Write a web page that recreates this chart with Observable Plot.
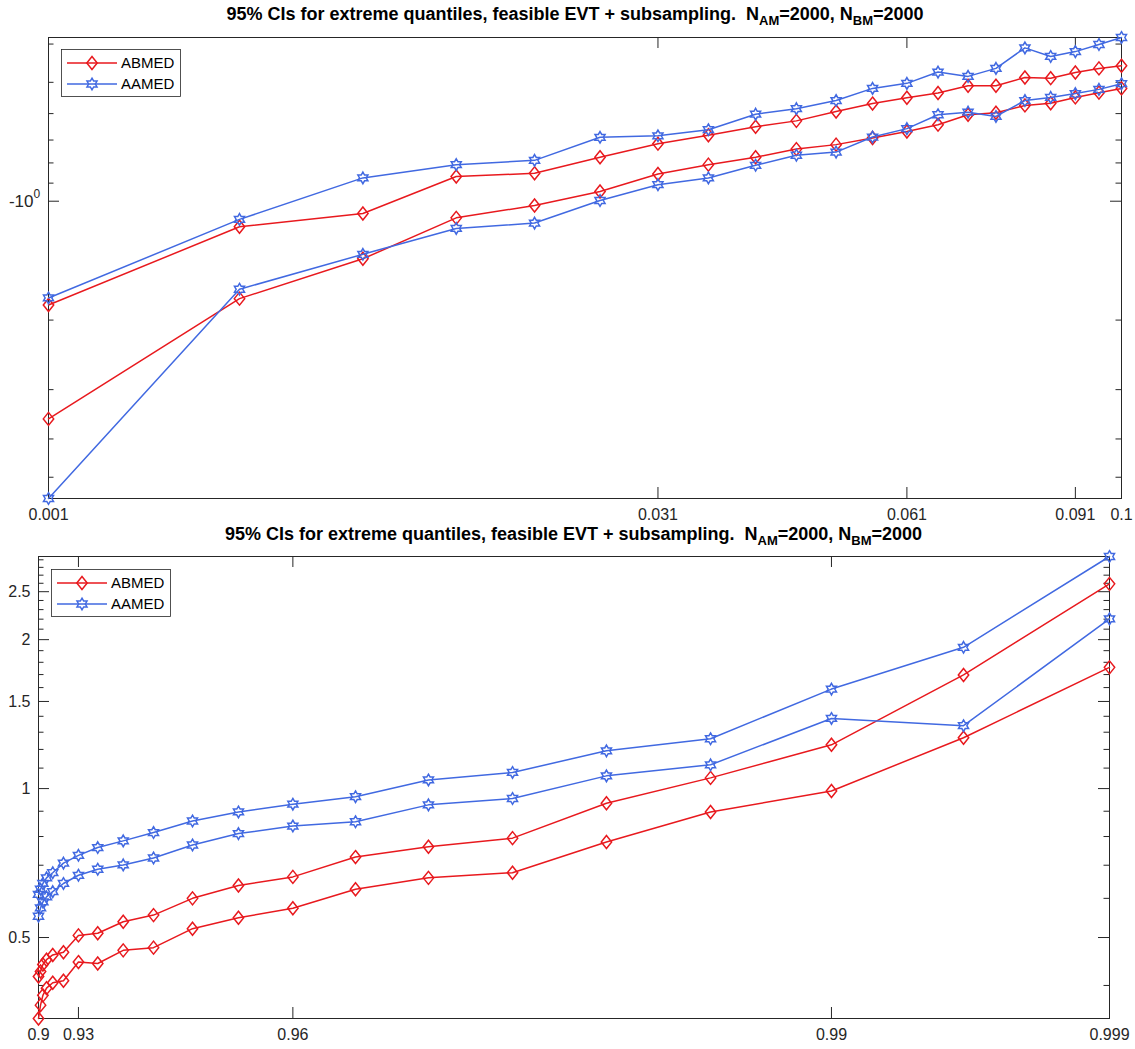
<!DOCTYPE html>
<html><head><meta charset="utf-8">
<script src="https://cdn.jsdelivr.net/npm/d3@7"></script>
<script src="https://cdn.jsdelivr.net/npm/@observablehq/plot@0.6"></script>
<style>
body{margin:0;background:#fff;}
#wrap{position:relative;width:1135px;height:1049px;overflow:hidden;font-family:"Liberation Sans",Arial,Helvetica,sans-serif;}
.panel{position:absolute;left:0;}
.title{position:absolute;font-weight:bold;font-size:18px;line-height:20px;color:#000;white-space:nowrap;transform:translateX(-50%);}
.title .sb{font-size:13px;position:relative;top:5px;}
.legend{position:absolute;}
</style></head><body><div id="wrap"></div>
<script>
// ---------- data: upper panel (lower-tail quantiles) ----------
const topP = [0.001,0.006,0.011,0.016,0.021,0.026,0.031,0.036,0.041,0.046,0.051,0.056,0.061,0.066,0.071,0.076,0.081,0.086,0.091,0.096,0.1];
// position of each probability on the (non-linear) quantile axis (0 = 0.001, 1 = 0.1)
const topXq = [0,0.178,0.293,0.380,0.453,0.514,0.568,0.615,0.659,0.697,0.734,0.768,0.800,0.829,0.857,0.883,0.910,0.934,0.957,0.979,1.0];
const topABMEDUpper = [-1.831,-1.161,-1.074,-0.866,-0.850,-0.774,-0.715,-0.681,-0.648,-0.626,-0.593,-0.566,-0.547,-0.532,-0.510,-0.510,-0.486,-0.488,-0.472,-0.461,-0.454];
const topABMEDLower = [-3.558,-1.765,-1.399,-1.102,-1.025,-0.945,-0.853,-0.808,-0.774,-0.738,-0.719,-0.692,-0.666,-0.640,-0.604,-0.597,-0.572,-0.565,-0.546,-0.531,-0.518];
const topAAMEDUpper = [-1.758,-1.112,-0.873,-0.808,-0.788,-0.689,-0.683,-0.659,-0.602,-0.583,-0.556,-0.518,-0.503,-0.471,-0.483,-0.461,-0.409,-0.430,-0.418,-0.401,-0.385];
const topAAMEDLower = [-5.66,-1.671,-1.363,-1.172,-1.136,-0.996,-0.908,-0.873,-0.811,-0.765,-0.751,-0.688,-0.655,-0.604,-0.595,-0.610,-0.556,-0.546,-0.534,-0.521,-0.504];
const topXTickP = [0.001,0.031,0.061,0.091,0.1];
const topXTickLabels = ["0.001","0.031","0.061","0.091","0.1"];
const topYMajor = [-1];
const topYMinor = [-5,-4,-3,-2,-0.9,-0.8,-0.7,-0.6,-0.5,-0.4];

// ---------- data: lower panel (upper-tail quantiles) ----------
const botP = [0.9,0.905,0.91,0.915,0.92,0.925,0.93,0.935,0.94,0.945,0.95,0.955,0.96,0.965,0.97,0.975,0.98,0.985,0.99,0.995,0.999];
const botXq = [0,0.0019,0.0041,0.0075,0.0133,0.0233,0.0373,0.0553,0.0791,0.1074,0.1438,0.1867,0.2375,0.2960,0.3641,0.4426,0.5303,0.6275,0.7404,0.8637,1.0];
const botABMEDUpper = [0.417,0.427,0.441,0.451,0.461,0.467,0.505,0.510,0.538,0.555,0.600,0.637,0.663,0.727,0.763,0.794,0.934,1.051,1.226,1.697,2.593];
const botABMEDLower = [0.343,0.365,0.382,0.395,0.405,0.409,0.446,0.443,0.471,0.477,0.521,0.548,0.573,0.626,0.660,0.676,0.780,0.897,0.989,1.267,1.758];
const botAAMEDUpper = [0.611,0.626,0.643,0.660,0.676,0.707,0.733,0.760,0.784,0.815,0.860,0.897,0.930,0.963,1.041,1.078,1.192,1.261,1.589,1.930,2.945];
const botAAMEDLower = [0.552,0.574,0.590,0.604,0.619,0.643,0.668,0.687,0.701,0.724,0.769,0.811,0.840,0.857,0.927,0.955,1.061,1.117,1.386,1.340,2.203];
const botXTickP = [0.9,0.93,0.96,0.99,0.999];
const botXTickLabels = ["0.9","0.93","0.96","0.99","0.999"];
const botYMajor = [0.5,1,1.5,2,2.5];
const botYMinor = [0.4,0.6,0.7,0.8,0.9,1.1,1.2,1.3,1.4,1.6,1.7,1.8,1.9,2.1,2.2,2.3,2.4,2.6,2.7,2.8,2.9];

const seriesNames = ["ABMED","AAMED"];
const titleHTML = '95% CIs for extreme quantiles, feasible EVT + subsampling.&nbsp; N<span class="sb">AM</span>=2000, N<span class="sb">BM</span>=2000';

// ---------- styling ----------
const AX = "#262626";
const RED = "#e8191e", BLUE = "#4169e1";
const FONT = '"Liberation Sans", Arial, Helvetica, sans-serif';
const TICKFONT = 16;
const diamond = {draw(ctx, size) {const r = Math.sqrt(size / Math.PI), w = r * 0.8;
  ctx.moveTo(0, -r); ctx.lineTo(w, 0); ctx.lineTo(0, r); ctx.lineTo(-w, 0); ctx.closePath();}};
const hexagram = {draw(ctx, size) {const R = Math.sqrt(size / Math.PI), ri = R / Math.sqrt(3);
  for (let k = 0; k < 12; ++k) {const a = -Math.PI / 2 + k * Math.PI / 6, rr = k % 2 ? ri : R;
    const x = rr * Math.cos(a), y = rr * Math.sin(a); if (k) ctx.lineTo(x, y); else ctx.moveTo(x, y);}
  ctx.closePath();}};
const styles = [
  {name: seriesNames[0], color: RED, sym: diamond, r: 6.5},
  {name: seriesNames[1], color: BLUE, sym: hexagram, r: 5.8}
];

function buildRows(p, xq, abU, abL, aaU, aaL) {
  return p.map((v, i) => ({p: v, xq: xq[i], abU: abU[i], abL: abL[i], aaU: aaU[i], aaL: aaL[i]}));
}
function tickXq(p, xq, tickP) {
  return tickP.map(t => xq[p.findIndex(v => Math.abs(v - t) < 1e-9)]);
}

function panel(cfg) {
  const {rows, width, height, mt, mb, ml, mr, xTicks, xLabels, yMajor, yMinor, yAxis} = cfg;
  const fw = width - ml - mr, fh = height - mt - mb, MAJ = 11, MIN = 5.5;
  const allY = rows.flatMap(d => [d.abU, d.abL, d.aaU, d.aaL]);
  const lab = new Map(xTicks.map((v, i) => [v, xLabels[i]]));
  const marks = [
    Plot.frame({stroke: AX, strokeWidth: 1}),
    Plot.tickX(xTicks, {x: d => d, stroke: AX, insetTop: fh - MAJ}),
    Plot.tickX(xTicks, {x: d => d, stroke: AX, insetBottom: fh - MAJ}),
    Plot.tickY(yMajor, {y: d => d, stroke: AX, insetRight: fw - MAJ}),
    Plot.tickY(yMajor, {y: d => d, stroke: AX, insetLeft: fw - MAJ}),
    Plot.tickY(yMinor, {y: d => d, stroke: AX, insetRight: fw - MIN}),
    Plot.tickY(yMinor, {y: d => d, stroke: AX, insetLeft: fw - MIN}),
    Plot.axisX({ticks: xTicks, tickFormat: d => lab.get(d), tickSize: 0, tickPadding: 10, label: null, fontSize: TICKFONT}),
    ...yAxis
  ];
  const keys = [["abU", 0], ["abL", 0], ["aaU", 1], ["aaL", 1]];
  for (const [k, s] of keys) {
    const st = styles[s];
    marks.push(Plot.line(rows, {x: "xq", y: k, stroke: st.color, strokeWidth: 1.5}));
    marks.push(Plot.dot(rows, {x: "xq", y: k, symbol: st.sym, r: st.r, stroke: st.color, strokeWidth: 1.5, fill: "none"}));
  }
  return Plot.plot({
    width, height, marginTop: mt, marginBottom: mb, marginLeft: ml, marginRight: mr,
    x: {type: "linear", domain: [0, 1]},
    y: {type: "log", domain: d3.extent(allY)},
    style: {fontFamily: FONT, fontSize: TICKFONT + "px", color: AX, background: "white", overflow: "visible"},
    marks
  });
}

function legend(left, top) {
  const svg = d3.create("svg").attr("class", "legend").attr("width", 121).attr("height", 49)
    .style("left", left + "px").style("top", top + "px");
  svg.append("rect").attr("x", 0.5).attr("y", 0.5).attr("width", 119).attr("height", 47)
    .attr("fill", "white").attr("stroke", AX).attr("stroke-width", 0.8);
  styles.forEach((e, i) => {
    const y = 14 + i * 21;
    svg.append("line").attr("x1", 6).attr("x2", 56).attr("y1", y).attr("y2", y).attr("stroke", e.color).attr("stroke-width", 1.5);
    svg.append("path").attr("d", d3.symbol(e.sym, Math.PI * e.r * e.r)()).attr("transform", `translate(31,${y})`)
      .attr("fill", "none").attr("stroke", e.color).attr("stroke-width", 1.5);
    svg.append("text").attr("x", 60).attr("y", y).attr("dy", "0.35em").attr("font-family", FONT)
      .attr("font-size", 15).attr("fill", "#000").text(e.name);
  });
  return svg.node();
}

const wrap = document.getElementById("wrap");

// upper panel
const topRows = buildRows(topP, topXq, topABMEDUpper, topABMEDLower, topAAMEDUpper, topAAMEDLower);
const topPlot = panel({
  rows: topRows, width: 1135, height: 530, mt: 37, mb: 32, ml: 48, mr: 14,
  xTicks: tickXq(topP, topXq, topXTickP), xLabels: topXTickLabels,
  yMajor: topYMajor, yMinor: topYMinor,
  yAxis: [
    Plot.axisY({ticks: topYMajor, tickFormat: () => "-10", tickSize: 0, tickPadding: 15, label: null, fontSize: 17}),
    Plot.text(topYMajor, {y: d => d, frameAnchor: "left", text: () => "0", textAnchor: "start", dx: -15, dy: -7, fontSize: 12, fill: AX})
  ]
});
topPlot.classList.add("panel"); topPlot.style.top = "0px";
wrap.appendChild(topPlot);

// lower panel
const botRows = buildRows(botP, botXq, botABMEDUpper, botABMEDLower, botAAMEDUpper, botAAMEDLower);
const botPlot = panel({
  rows: botRows, width: 1135, height: 519, mt: 26, mb: 31, ml: 38, mr: 26,
  xTicks: tickXq(botP, botXq, botXTickP), xLabels: botXTickLabels,
  yMajor: botYMajor, yMinor: botYMinor,
  yAxis: [
    Plot.axisY({ticks: botYMajor, tickFormat: d => String(d), tickSize: 0, tickPadding: 8, label: null, fontSize: TICKFONT})
  ]
});
botPlot.classList.add("panel"); botPlot.style.top = "530px";
wrap.appendChild(botPlot);

// titles
function title(cx, top) {
  const d = document.createElement("div");
  d.className = "title"; d.style.left = cx + "px"; d.style.top = top + "px"; d.innerHTML = titleHTML;
  wrap.appendChild(d);
}
title(575, 4);
title(573.5, 524);

// legends
wrap.appendChild(legend(61, 49));
wrap.appendChild(legend(51, 569));
</script></body></html>
